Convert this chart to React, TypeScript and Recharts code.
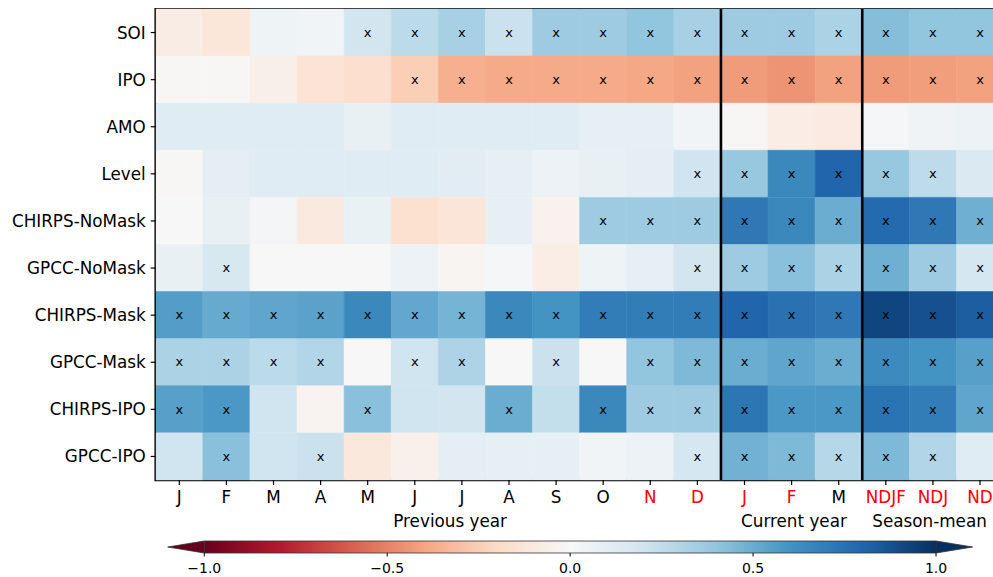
import React from 'react';
import {
  BarChart,
  Bar,
  XAxis,
  YAxis,
  Cell,
  LabelList,
  ReferenceLine,
  ReferenceArea,
  ComposedChart,
  Line,
} from 'recharts';

// ---------- data ----------
const rowNames = [
  'SOI',
  'IPO',
  'AMO',
  'Level',
  'CHIRPS-NoMask',
  'GPCC-NoMask',
  'CHIRPS-Mask',
  'GPCC-Mask',
  'CHIRPS-IPO',
  'GPCC-IPO',
];
const colLabels = ['J', 'F', 'M', 'A', 'M', 'J', 'J', 'A', 'S', 'O', 'N', 'D', 'J', 'F', 'M', 'NDJF', 'NDJ', 'ND'];
const redCols = [10, 11, 12, 13, 15, 16, 17];
const groupLabels = ['Previous year', 'Current year', 'Season-mean'];
const groupPositions = [6.25, 13.55, 16.43];
const dividers = [12, 15];
const colorbarTicks = [-1, -0.5, 0, 0.5, 1];

const soi = [-0.08, -0.12, 0.05, 0.03, 0.19, 0.27, 0.33, 0.22, 0.36, 0.36, 0.4, 0.33, 0.36, 0.36, 0.32, 0.43, 0.4, 0.4];
const soiSig = [0, 0, 0, 0, 1, 1, 1, 1, 1, 1, 1, 1, 1, 1, 1, 1, 1, 1];
const ipo = [-0.01, -0.01, -0.06, -0.14, -0.17, -0.25, -0.36, -0.38, -0.38, -0.38, -0.39, -0.41, -0.43, -0.45, -0.41, -0.43, -0.42, -0.41];
const ipoSig = [0, 0, 0, 0, 0, 1, 1, 1, 1, 1, 1, 1, 1, 1, 1, 1, 1, 1];
const amo = [0.12, 0.12, 0.12, 0.12, 0.08, 0.12, 0.12, 0.12, 0.12, 0.09, 0.09, 0.03, -0.01, -0.07, -0.09, 0.01, 0.04, 0.06];
const amoSig = [0, 0, 0, 0, 0, 0, 0, 0, 0, 0, 0, 0, 0, 0, 0, 0, 0, 0];
const level = [-0.01, 0.1, 0.12, 0.12, 0.12, 0.12, 0.11, 0.09, 0.06, 0.08, 0.1, 0.2, 0.38, 0.65, 0.8, 0.38, 0.26, 0.15];
const levelSig = [0, 0, 0, 0, 0, 0, 0, 0, 0, 0, 0, 1, 1, 1, 1, 1, 1, 0];
const chirpsNoMask = [0.0, 0.08, 0.02, -0.1, 0.07, -0.16, -0.13, 0.09, -0.04, 0.36, 0.36, 0.36, 0.72, 0.65, 0.5, 0.78, 0.72, 0.49];
const chirpsNoMaskSig = [0, 0, 0, 0, 0, 0, 0, 0, 0, 1, 1, 1, 1, 1, 1, 1, 1, 1];
const gpccNoMask = [0.08, 0.17, 0.0, 0.0, 0.0, 0.06, -0.02, 0.01, -0.07, 0.05, 0.09, 0.19, 0.36, 0.42, 0.32, 0.49, 0.36, 0.18];
const gpccNoMaskSig = [0, 1, 0, 0, 0, 0, 0, 0, 0, 0, 0, 1, 1, 1, 1, 1, 1, 1];
const chirpsMask = [0.56, 0.51, 0.53, 0.54, 0.65, 0.52, 0.47, 0.65, 0.6, 0.7, 0.7, 0.7, 0.8, 0.75, 0.72, 0.92, 0.88, 0.83];
const chirpsMaskSig = [1, 1, 1, 1, 1, 1, 1, 1, 1, 1, 1, 1, 1, 1, 1, 1, 1, 1];
const gpccMask = [0.32, 0.32, 0.27, 0.3, 0.0, 0.2, 0.31, 0.0, 0.22, 0.0, 0.4, 0.45, 0.5, 0.53, 0.5, 0.64, 0.6, 0.55];
const gpccMaskSig = [1, 1, 1, 1, 0, 1, 1, 0, 1, 0, 1, 1, 1, 1, 1, 1, 1, 1];
const chirpsIpo = [0.55, 0.58, 0.2, -0.03, 0.42, 0.2, 0.19, 0.5, 0.24, 0.65, 0.36, 0.36, 0.73, 0.58, 0.58, 0.74, 0.7, 0.53];
const chirpsIpoSig = [1, 1, 0, 0, 1, 0, 0, 1, 0, 1, 1, 1, 1, 1, 1, 1, 1, 1];
const gpccIpo = [0.2, 0.42, 0.2, 0.22, -0.11, -0.05, 0.1, 0.09, 0.09, 0.03, 0.06, 0.18, 0.48, 0.45, 0.29, 0.45, 0.3, 0.12];
const gpccIpoSig = [0, 1, 0, 1, 0, 0, 0, 0, 0, 0, 0, 1, 1, 1, 1, 1, 1, 0];

const values = [soi, ipo, amo, level, chirpsNoMask, gpccNoMask, chirpsMask, gpccMask, chirpsIpo, gpccIpo];
const sigs = [soiSig, ipoSig, amoSig, levelSig, chirpsNoMaskSig, gpccNoMaskSig, chirpsMaskSig, gpccMaskSig, chirpsIpoSig, gpccIpoSig];

// ---------- colormap (RdBu) ----------
const rdbu = ['#67001f', '#b2182b', '#d6604d', '#f4a582', '#fddbc7', '#f7f7f7', '#d1e5f0', '#92c5de', '#4393c3', '#2166ac', '#053061'];
const hex = (h: string) => [1, 3, 5].map((i) => parseInt(h.slice(i, i + 2), 16));
const colorOf = (v: number) => {
  const t = Math.max(0, Math.min(1, (v + 1) / 2)) * (rdbu.length - 1);
  const i = Math.min(Math.floor(t), rdbu.length - 2);
  const f = t - i;
  const a = hex(rdbu[i]);
  const b = hex(rdbu[i + 1]);
  const c = a.map((av, k) => Math.round(av + (b[k] - av) * f));
  return `rgb(${c[0]},${c[1]},${c[2]})`;
};

const colKeys = colLabels.map((_, i) => `c${i}`);
const tableData = rowNames.map((name) => {
  const row: Record<string, any> = { name };
  colKeys.forEach((k) => (row[k] = 1));
  return row;
});

const FONT = 'DejaVu Sans';
const BIG = 16.8;

const MonthTick = (props: any) => {
  const { x, y, payload } = props;
  const i = Math.round(payload.value - 0.5);
  return (
    <text x={x} y={y} dy="0.71em" textAnchor="middle" fontSize={BIG} fontFamily={FONT} fill={redCols.includes(i) ? '#ff0000' : '#000000'}>
      {colLabels[i]}
    </text>
  );
};

const GroupTick = (props: any) => {
  const { x, y, payload } = props;
  const i = groupPositions.indexOf(payload.value);
  return (
    <text x={x} y={y} dy="0.71em" textAnchor="middle" fontSize={BIG} fontFamily={FONT} fill="#000000">
      {groupLabels[i]}
    </text>
  );
};

const makeMark = (col: number) => (p: any) => {
  const { x, y, width, height, index } = p;
  if (!sigs[index] || !sigs[index][col]) return null;
  return (
    <text x={x + width / 2} y={y + height / 2} dy="0.33em" textAnchor="middle" fontSize={13} fontFamily={FONT} fill="#000">
      x
    </text>
  );
};

const fmtCb = (v: number) => (v < 0 ? '\u2212' + Math.abs(v).toFixed(1) : v.toFixed(1));

const LeftTri = (p: any) => {
  const { x, y, width, height } = p;
  return <polygon points={`${x},${y + height / 2} ${x + width},${y} ${x + width},${y + height}`} fill={rdbu[0]} stroke="#333" strokeWidth={0.8} />;
};
const RightTri = (p: any) => {
  const { x, y, width, height } = p;
  return <polygon points={`${x},${y} ${x + width},${y + height / 2} ${x},${y + height}`} fill={rdbu[rdbu.length - 1]} stroke="#333" strokeWidth={0.8} />;
};

const cbData = colorbarTicks.map((v) => ({ x: v, y: 0.5 }));

export default function App() {
  return (
    <div
      style={{
        position: 'absolute',
        left: 8,
        top: 8,
        width: 985,
        height: 569,
        overflow: 'hidden',
        fontFamily: FONT,
        background: '#fff',
      }}
    >
      <div style={{ width: 1000, height: 528 }}>
        <BarChart
          width={1000}
          height={528}
          data={tableData}
          layout="vertical"
          barCategoryGap={0}
          barGap={0}
          margin={{ top: 1, right: 4.45, bottom: 0, left: 0 }}
        >
          <XAxis
            type="number"
            domain={[0, 18]}
            ticks={colLabels.map((_, i) => i + 0.5)}
            tick={<MonthTick />}
            tickSize={5}
            tickMargin={6}
            tickLine={{ stroke: '#000', strokeWidth: 1.2 }}
            axisLine={false}
            height={32}
            interval={0}
            allowDataOverflow
          />
          <XAxis
            xAxisId="groups"
            type="number"
            domain={[0, 18]}
            ticks={groupPositions}
            tick={<GroupTick />}
            tickSize={0}
            tickMargin={3}
            tickLine={false}
            axisLine={false}
            height={24}
            interval={0}
            allowDataOverflow
          />
          <YAxis
            type="category"
            dataKey="name"
            width={147.75}
            tickSize={5}
            tickMargin={5}
            tickLine={{ stroke: '#000', strokeWidth: 1.2 }}
            axisLine={false}
            tick={{ fontSize: BIG, fill: '#000', fontFamily: FONT }}
            interval={0}
          />
          {colKeys.map((k, c) => (
            <Bar key={k} dataKey={k} stackId="s" isAnimationActive={false}>
              {rowNames.map((_, r) => {
                const col = colorOf(values[r][c]);
                return <Cell key={r} fill={col} stroke={col} strokeWidth={0.6} />;
              })}
              <LabelList dataKey={k} content={makeMark(c)} />
            </Bar>
          ))}
          {dividers.map((d) => (
            <ReferenceLine key={d} x={d} stroke="#000" strokeWidth={2.6} />
          ))}
          <ReferenceArea x1={0} x2={18} fill="none" fillOpacity={0} stroke="#000" strokeWidth={2.6} />
        </BarChart>
      </div>
      <div style={{ width: 985, height: 41 }}>
        <ComposedChart width={985} height={41} data={cbData} margin={{ top: 5, right: 20.4, bottom: 0, left: 159.7 }}>
          <defs>
            <linearGradient id="cbGrad" x1="0" y1="0" x2="1" y2="0">
              {rdbu.map((c, i) => (
                <stop key={i} offset={`${(i / (rdbu.length - 1)) * 100}%`} stopColor={c} />
              ))}
            </linearGradient>
          </defs>
          <XAxis
            type="number"
            dataKey="x"
            domain={[-1.1, 1.1]}
            ticks={colorbarTicks}
            tickFormatter={fmtCb}
            tickSize={3.5}
            tickMargin={7}
            tickLine={{ stroke: '#000', strokeWidth: 1 }}
            axisLine={false}
            tick={{ fontSize: 14, fill: '#000', fontFamily: FONT }}
            height={24}
            interval={0}
            allowDataOverflow
          />
          <YAxis type="number" domain={[0, 1]} hide />
          <Line dataKey="y" stroke="none" dot={false} isAnimationActive={false} />
          <ReferenceArea x1={-1.1} x2={-1} y1={0} y2={1} shape={<LeftTri />} />
          <ReferenceArea x1={1} x2={1.1} y1={0} y2={1} shape={<RightTri />} />
          <ReferenceArea x1={-1} x2={1} y1={0} y2={1} fill="url(#cbGrad)" fillOpacity={1} stroke="#333" strokeWidth={0.8} />
        </ComposedChart>
      </div>
    </div>
  );
}
